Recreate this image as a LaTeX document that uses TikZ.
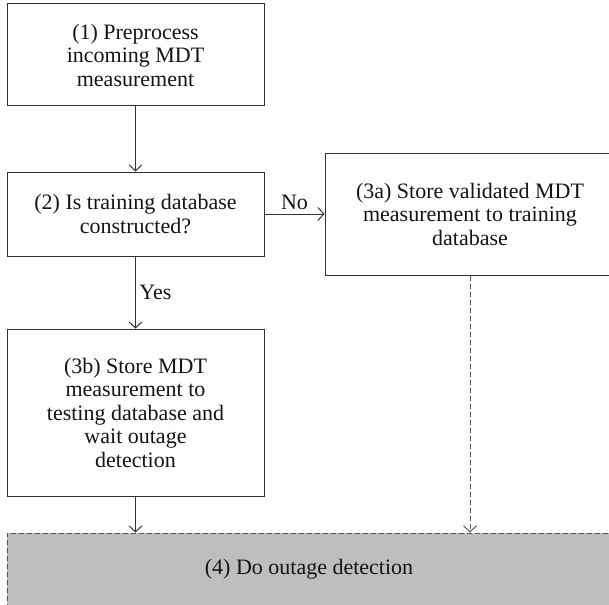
\documentclass[tikz,border=0pt]{standalone}
\usepackage{fontspec}
\setmainfont{Liberation Serif}
\usetikzlibrary{positioning,arrows.meta}
\definecolor{linegray}{HTML}{333333}
\definecolor{dashgray}{HTML}{555555}
\definecolor{fillgray}{HTML}{BEBEBE}

\begin{document}
\begin{tikzpicture}[%
        ->,
        >={Straight Barb[length=6pt,width=13pt]},
        line width=1pt,
        draw=linegray,
        node distance=60pt,
        every node/.style={font=\fontsize{22}{23.5}\selectfont, text=black!92},
        stepbox/.style={%
          rectangle,
          draw=linegray,
          align=center,
          minimum width=257pt,
          inner sep=0pt
        },
        outagebox/.style={stepbox, draw=dashgray, fill=fillgray,
          dash pattern=on 5pt off 3pt, minimum width=604pt, minimum height=73pt},
        dashedline/.style={draw=dashgray, dash pattern=on 5pt off 3pt}
      ]
      \useasboundingbox (0,0) rectangle (609pt,-604pt);
      \node[stepbox, minimum height=102pt] (preprocess) at (135.5pt,-55pt) {(1) Preprocess\\incoming MDT\\measurement};
      \node[stepbox, minimum height=84pt, below=65pt of preprocess] (check) {(2) Is training database\\constructed?};
      \node[stepbox, minimum width=290pt, minimum height=122pt, right=60pt of check] (training) {(3a) Store validated MDT\\measurement to training\\database};
      \node[stepbox, minimum height=167pt, below=72pt of check] (testing) {(3b) Store MDT\\measurement to\\testing database and\\wait outage\\detection};
      \node[outagebox, below right=36pt and 0pt of testing.south west] (outage) {(4) Do outage detection};

      \draw[linegray] (preprocess) -- (check);
      \draw[linegray] (check) -- node[above] {No} (training);
      \draw[linegray] (check) -- node[right] {Yes} (testing);
      \draw[linegray] (testing) -- (testing.south |- outage.north);
      \draw[dashedline] (training) -- (training.south |- outage.north);
    \end{tikzpicture}
\end{document}
